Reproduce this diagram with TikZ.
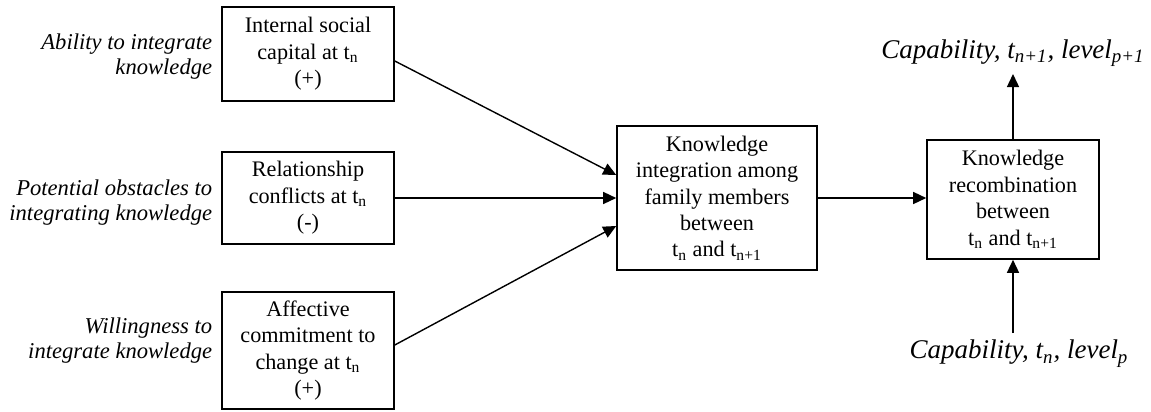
\documentclass[tikz,border=0pt]{standalone}
\usepackage{fontspec}
\setmainfont{Liberation Serif}
\usetikzlibrary{arrows.meta}
\begin{document}
\begin{tikzpicture}[x=0.5pt,y=-0.5pt,
  box/.style={draw,line width=0.8pt,align=center,inner sep=0pt,minimum width=86pt,font=\fontsize{11.1}{13.2}\selectfont},
  lab/.style={anchor=east,align=right,font=\fontsize{11.3}{12.5}\selectfont\itshape},
  caplab/.style={font=\fontsize{13.5}{16}\selectfont\itshape},
  arr/.style={-{Triangle[length=6.5pt,width=6pt]},line width=0.7pt}]
\useasboundingbox (0,0) rectangle (1151,412);
\def\xL{308};
\def\xM{717};
\def\xR{1013};
\node[box,minimum height=47pt] (soc) at (\xL,54) {Internal social\\capital at t\textsubscript{n}\\(+)};
\node[box,minimum height=46pt] (con) at (\xL,198) {Relationship\\conflicts at t\textsubscript{n}\\(-)};
\node[box,minimum height=58.5pt] (aff) at (\xL,350.5) {Affective\\commitment to\\change at t\textsubscript{n}\\(+)};
\node[lab] (abil) at ([xshift=-1pt,yshift=-1.5pt]soc.west) {Ability to integrate\\knowledge};
\node[lab] (obst) at ([xshift=-1pt,yshift=-2.5pt]con.west) {Potential obstacles to\\integrating knowledge};
\node[lab] (will) at ([xshift=-1pt,yshift=5pt]aff.west) {Willingness to\\integrate knowledge};
\node[box,minimum width=100pt,minimum height=72pt] (integ) at (\xM,198) {Knowledge\\integration among\\family members\\between\\t\textsubscript{n} and t\textsubscript{n+1}};
\node[box,minimum height=59.5pt] (recomb) at (\xR,199.5) {Knowledge\\recombination\\between\\t\textsubscript{n} and t\textsubscript{n+1}};
\node[caplab,anchor=south] (capnext) at (\xR,74) {Capability, t\textsubscript{n+1}, level\textsubscript{p+1}};
\node[caplab,anchor=north] (capnow) at (1019,333) {Capability, t\textsubscript{n}, level\textsubscript{p}};
\draw[arr] ([yshift=-3.5pt]soc.east) -- ([yshift=11.5pt]integ.west);
\draw[arr] (con.east) -- (con.east -| integ.west);
\draw[arr] ([yshift=2.75pt]aff.east) -- ([yshift=-14pt]integ.west);
\draw[arr] (integ.east) -- (integ.east -| recomb.west);
\draw[arr] (recomb.north) -- (capnext.south);
\draw[arr] (capnow.north -| recomb.south) -- (recomb.south);
\end{tikzpicture}
\end{document}
